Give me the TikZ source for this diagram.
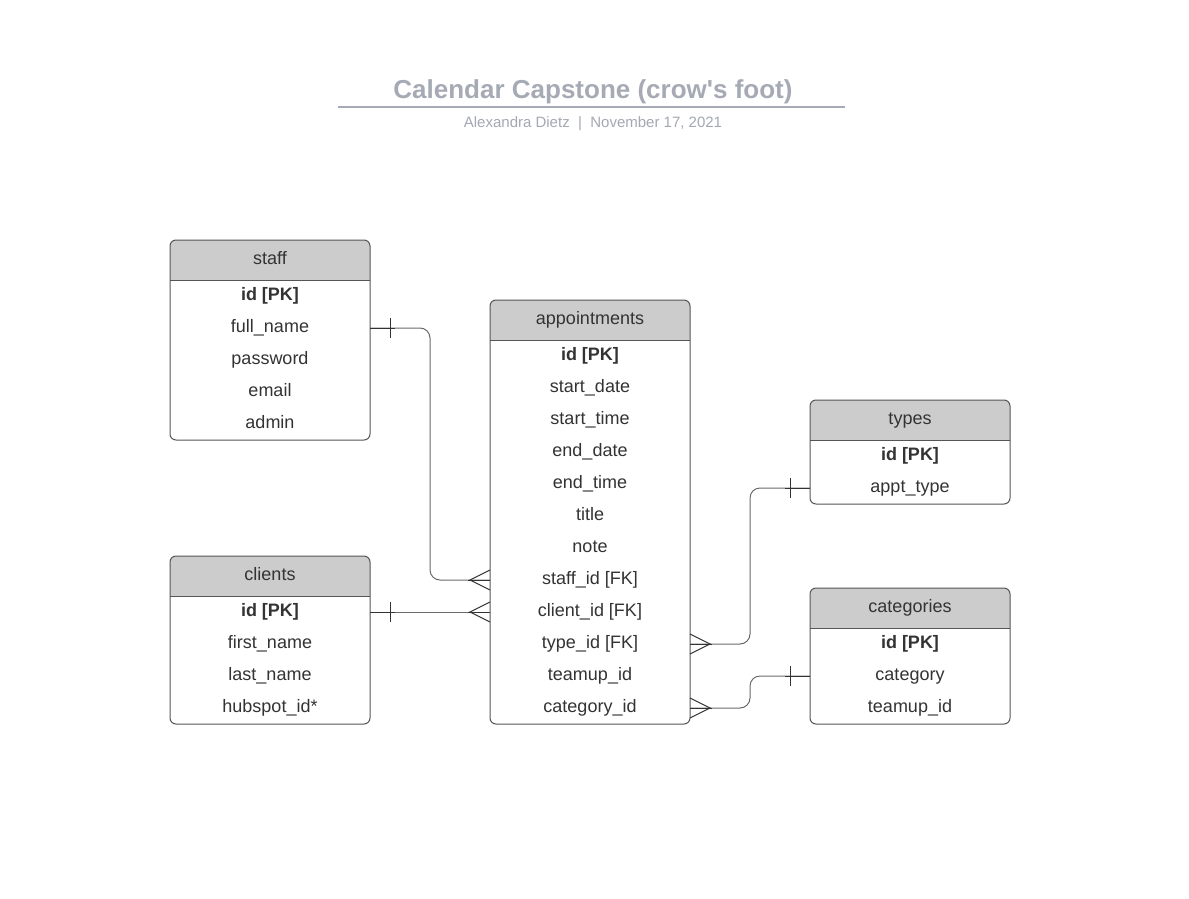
\documentclass[tikz,border=0pt]{standalone}
\usepackage{fontspec}
\setmainfont{Liberation Sans}
\newfontfamily\titlefont{Liberation Sans}[Ligatures=TeXOff]
\usetikzlibrary{calc}
\definecolor{titlegray}{HTML}{A5AAB5}
\definecolor{subgray}{HTML}{A3A8B2}
\definecolor{headgray}{HTML}{CCCCCC}
\definecolor{boxline}{HTML}{555555}
\definecolor{txt}{HTML}{333333}
\definecolor{conn}{HTML}{6A6A6A}
\definecolor{markc}{HTML}{333333}
\newcommand{\ertable}[5]{% name, left x, top y, bottom y, header text
  \fill[headgray,rounded corners=6pt] (#2,#3) rectangle ++(200,40);
  \fill[headgray] (#2,#3+20) rectangle ++(200,20);
  \node[tbl, anchor=north west, minimum width=200pt, minimum height=#4-#3] (#1) at (#2,#3) {};
  \draw[boxline, line width=1pt] (#2,#3+40) -- ++(200,0);
  \node[row] (#1-head) at (#2+100,#3+20) {#5};
}
\begin{document}
\begin{tikzpicture}[x=1pt,y=-1pt,
  row/.style={font=\fontsize{18}{20}\selectfont, text=txt, text height=13pt, text depth=4pt, inner sep=0pt},
  tbl/.style={draw=boxline, line width=1pt, rounded corners=6pt, inner sep=0pt, outer sep=0pt},
  conline/.style={draw=conn, line width=1pt, rounded corners=10pt},
  crow/.style={draw=markc, line width=1pt}
]
\useasboundingbox[fill=white] (0,0) rectangle (1189,899);

% title
\node[font=\titlefont\bfseries\fontsize{26}{30}\selectfont, text=titlegray, inner sep=0pt] (title) at (593,92) {Calendar Capstone (crow's foot)};
\draw[titlegray, line width=2pt] (338,107) -- (845,107);
\node[font=\fontsize{15}{17}\selectfont, text=subgray, inner sep=0pt] (sub) at (593,124) {Alexandra Dietz~~|~~November 17, 2021};

% tables
\ertable{staff}{170}{240}{440}{staff}
\ertable{appt}{490}{300}{724}{appointments}
\ertable{types}{810}{400}{504}{types}
\ertable{clients}{170}{556}{724}{clients}
\ertable{cats}{810}{588}{724}{categories}

% staff rows
\node[row] (s-id)   at (270,296) {\textbf{id [PK]}};
\node[row] (s-full) at (270,328) {full\_name};
\node[row] (s-pw)   at (270,360) {password};
\node[row] (s-mail) at (270,392) {email};
\node[row] (s-adm)  at (270,424) {admin};

% appointments rows
\node[row] (a-id)    at (590,356) {\textbf{id [PK]}};
\node[row] (a-sd)    at (590,388) {start\_date};
\node[row] (a-st)    at (590,420) {start\_time};
\node[row] (a-ed)    at (590,452) {end\_date};
\node[row] (a-et)    at (590,484) {end\_time};
\node[row] (a-title) at (590,516) {title};
\node[row] (a-note)  at (590,548) {note};
\node[row] (a-staff) at (590,580) {staff\_id [FK]};
\node[row] (a-cli)   at (590,612) {client\_id [FK]};
\node[row] (a-type)  at (590,644) {type\_id [FK]};
\node[row] (a-team)  at (590,676) {teamup\_id};
\node[row] (a-cat)   at (590,708) {category\_id};

% types rows
\node[row] (t-id)   at (910,456) {\textbf{id [PK]}};
\node[row] (t-type) at (910,488) {appt\_type};

% clients rows
\node[row] (c-id)   at (270,612) {\textbf{id [PK]}};
\node[row] (c-fn)   at (270,644) {first\_name};
\node[row] (c-ln)   at (270,676) {last\_name};
\node[row] (c-hs)   at (270,708) {hubspot\_id*};

% categories rows
\node[row] (g-id)   at (910,644) {\textbf{id [PK]}};
\node[row] (g-cat)  at (910,676) {category};
\node[row] (g-team) at (910,708) {teamup\_id};

% connectors
\path[conline] (staff.east |- s-full) -| (430,0 |- a-staff) -- (appt.west |- a-staff);
\path[conline] (clients.east |- c-id) -- (appt.west |- a-cli);
\path[conline] (appt.east |- a-type) -| (750,0 |- t-type) -- (types.west |- t-type);
\path[conline] (appt.east |- a-cat) -| (750,0 |- g-cat) -- (cats.west |- g-cat);

% one marks
\draw[crow] ($(staff.east |- s-full)+(20,-10)$) -- ++(0,20);
\draw[crow] ($(clients.east |- c-id)+(20,-10)$) -- ++(0,20);
\draw[crow] ($(types.west |- t-type)+(-20,-10)$) -- ++(0,20);
\draw[crow] ($(cats.west |- g-cat)+(-20,-10)$) -- ++(0,20);
\draw[crow] (staff.east |- s-full) -- ++(25,0);
\draw[crow] (clients.east |- c-id) -- ++(25,0);
\draw[crow] (types.west |- t-type) -- ++(-25,0);
\draw[crow] (cats.west |- g-cat) -- ++(-25,0);

% crow's feet
\draw[crow] ($(appt.west |- a-staff)+(0,-10)$) -- ++(-20,10) -- ++(20,10);
\draw[crow] (appt.west |- a-staff) -- ++(-22,0);
\draw[crow] ($(appt.west |- a-cli)+(0,-10)$) -- ++(-20,10) -- ++(20,10);
\draw[crow] (appt.west |- a-cli) -- ++(-22,0);
\draw[crow] ($(appt.east |- a-type)+(0,-10)$) -- ++(20,10) -- ++(-20,10);
\draw[crow] (appt.east |- a-type) -- ++(22,0);
\draw[crow] ($(appt.east |- a-cat)+(0,-10)$) -- ++(20,10) -- ++(-20,10);
\draw[crow] (appt.east |- a-cat) -- ++(22,0);
\end{tikzpicture}
\end{document}
